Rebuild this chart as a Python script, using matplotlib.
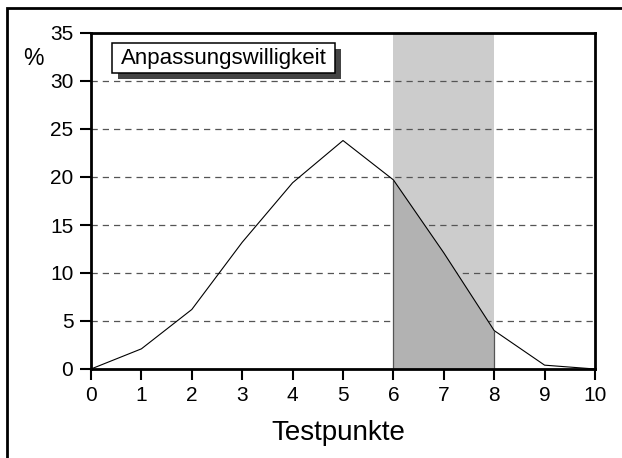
import matplotlib.pyplot as plt
from matplotlib.patches import Rectangle
import numpy as np

plt.rcParams['font.family'] = ['Liberation Sans', 'DejaVu Sans']

# data
testpunkte = [0, 1, 2, 3, 4, 5, 6, 7, 8, 9, 10]
prozent = [0, 2.1, 6.2, 13.2, 19.4, 23.8, 19.7, 12.1, 4.0, 0.4, 0]
band = (6, 8)
yticks = [0, 5, 10, 15, 20, 25, 30, 35]
legend_label = 'Anpassungswilligkeit'

W, H = 622, 458
fig = plt.figure(figsize=(W / 100, H / 100), dpi=100)
ax = fig.add_axes([91 / W, 1 - 369 / H, (595 - 91) / W, (369 - 33) / H])


def px_rect(x0, y0, x1, y1, **kw):
    # rectangle given in image pixels (top-left origin)
    return Rectangle((x0 / W, 1 - y1 / H), (x1 - x0) / W, (y1 - y0) / H,
                     transform=fig.transFigure, **kw)


# outer frame (runs off the right/bottom edge)
fig.patches.append(px_rect(7, 8, 700, 520, fill=False, edgecolor='black', linewidth=2))

x = np.array(testpunkte, dtype=float)
y = np.array(prozent)

ax.axvspan(band[0], band[1], color='#cccccc', zorder=0, lw=0)
for v in yticks[1:-1]:
    ax.axhline(v, color='#555555', lw=0.9, ls=(0, (5, 4)), zorder=1)
mask = (x >= band[0]) & (x <= band[1])
ax.fill_between(x[mask], 0, y[mask], color='#b2b2b2', zorder=2, lw=0)
ax.vlines(band, 0, [y[x == band[0]][0], y[x == band[1]][0]], color='#555555', lw=0.9, zorder=2)
ax.plot(x, y, color='black', lw=0.8, zorder=3)

ax.set_xlim(0, 10)
ax.set_ylim(0, 35)
ax.set_xticks(testpunkte)
ax.set_yticks(yticks)
ax.tick_params(direction='out', width=1.5, length=7.7, labelsize=15)
ax.tick_params(axis='x', pad=4.5)
ax.tick_params(axis='y', pad=5)
for s in ax.spines.values():
    s.set_linewidth(2)
ax.set_xlabel('Testpunkte', fontsize=20, va='baseline')
ax.xaxis.set_label_coords(0.49, -(440 - 369) / 336)

fig.text(33 / W, 1 - 58.5 / H, '%', fontsize=16.5, ha='center', va='center')

# legend-like box with shadow
fig.patches.append(px_rect(118, 49, 341, 79, facecolor='#444444', edgecolor='none', zorder=5))
fig.patches.append(px_rect(112, 43, 335, 73, facecolor='white', edgecolor='black', lw=1.1, zorder=6))
fig.text(223.5 / W, 1 - 58.5 / H, legend_label, fontsize=16, ha='center', va='center', zorder=7)

fig.savefig('out.png', dpi=100)
